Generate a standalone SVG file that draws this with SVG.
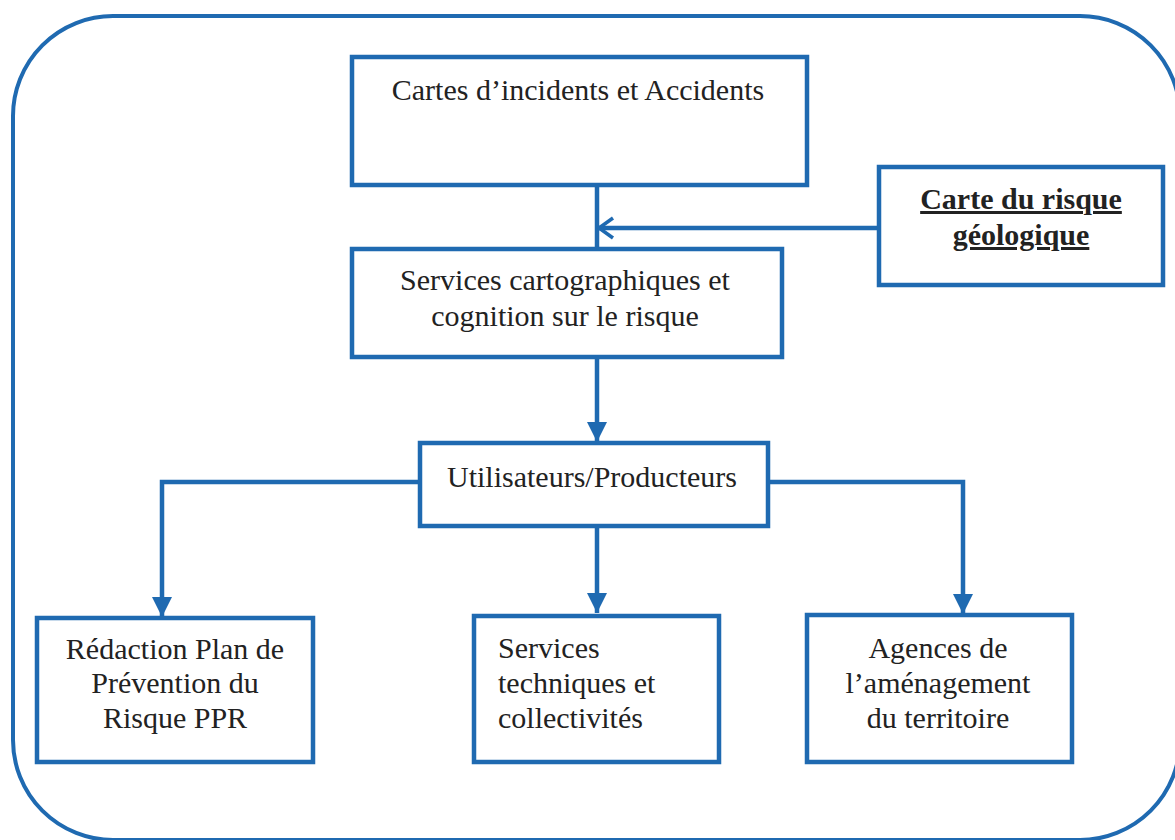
<svg xmlns="http://www.w3.org/2000/svg" width="1175" height="840" viewBox="0 0 1175 840">
<defs>
<style>
.frame{fill:none;stroke:#1f6ab1;stroke-width:4}
.box{fill:#fff;stroke:#1f6ab1;stroke-width:4.5}
.conn{fill:none;stroke:#1f6ab1;stroke-width:4.5}
.t{font-family:"Liberation Serif","Times New Roman",serif;font-size:30px;fill:#222}
.c{text-anchor:middle}
.b{font-weight:bold;text-decoration:underline}
</style>
<marker id="tri" markerUnits="userSpaceOnUse" markerWidth="22" markerHeight="22" viewBox="0 0 22 22" refX="20" refY="11" orient="auto">
<path d="M0,1 L20,11 L0,21 Z" fill="#1f6ab1"/>
</marker>
<marker id="open" markerUnits="userSpaceOnUse" markerWidth="22" markerHeight="26" viewBox="0 0 22 26" refX="18" refY="13" orient="auto">
<path d="M4,3 L18,13 L4,23" fill="none" stroke="#1f6ab1" stroke-width="3.5"/>
</marker>
</defs>
<rect width="1175" height="840" fill="#fff"/>
<rect class="frame" x="13" y="16" width="1167" height="824" rx="100" ry="100"/>
<g id="connectors">
<line class="conn" x1="597" y1="185" x2="597" y2="249"/>
<line class="conn" x1="879" y1="228" x2="599" y2="228" marker-end="url(#open)"/>
<line class="conn" x1="597" y1="357" x2="597" y2="442" marker-end="url(#tri)"/>
<polyline class="conn" points="420,482 162,482 162,617" marker-end="url(#tri)"/>
<line class="conn" x1="597" y1="526" x2="597" y2="613" marker-end="url(#tri)"/>
<polyline class="conn" points="768,482 963,482 963,614" marker-end="url(#tri)"/>
</g>
<g id="node-cartes">
<rect class="box" x="352" y="57" width="455" height="128"/>
<text class="t c" x="578" y="100">Cartes d’incidents et Accidents</text>
</g>
<g id="node-risque">
<rect class="box" x="879" y="167" width="284" height="118"/>
<text class="t c b" x="1021" y="209">Carte du risque</text>
<text class="t c b" x="1021" y="245">géologique</text>
</g>
<g id="node-services">
<rect class="box" x="352" y="249" width="430" height="108"/>
<text class="t c" x="565" y="290">Services cartographiques et</text>
<text class="t c" x="565" y="326">cognition sur le risque</text>
</g>
<g id="node-utilisateurs">
<rect class="box" x="420" y="443" width="348" height="83"/>
<text class="t c" x="592" y="487">Utilisateurs/Producteurs</text>
</g>
<g id="node-redaction">
<rect class="box" x="37" y="618" width="276" height="144"/>
<text class="t c" x="175" y="659">Rédaction Plan de</text>
<text class="t c" x="175" y="693">Prévention du</text>
<text class="t c" x="175" y="728">Risque PPR</text>
</g>
<g id="node-techniques">
<rect class="box" x="474" y="616" width="245" height="146"/>
<text class="t" x="498" y="658">Services</text>
<text class="t" x="498" y="693">techniques et</text>
<text class="t" x="498" y="728">collectivités</text>
</g>
<g id="node-agences">
<rect class="box" x="807" y="615" width="265" height="147"/>
<text class="t c" x="938" y="658">Agences de</text>
<text class="t c" x="938" y="693">l’aménagement</text>
<text class="t c" x="938" y="728">du territoire</text>
</g>
</svg>
